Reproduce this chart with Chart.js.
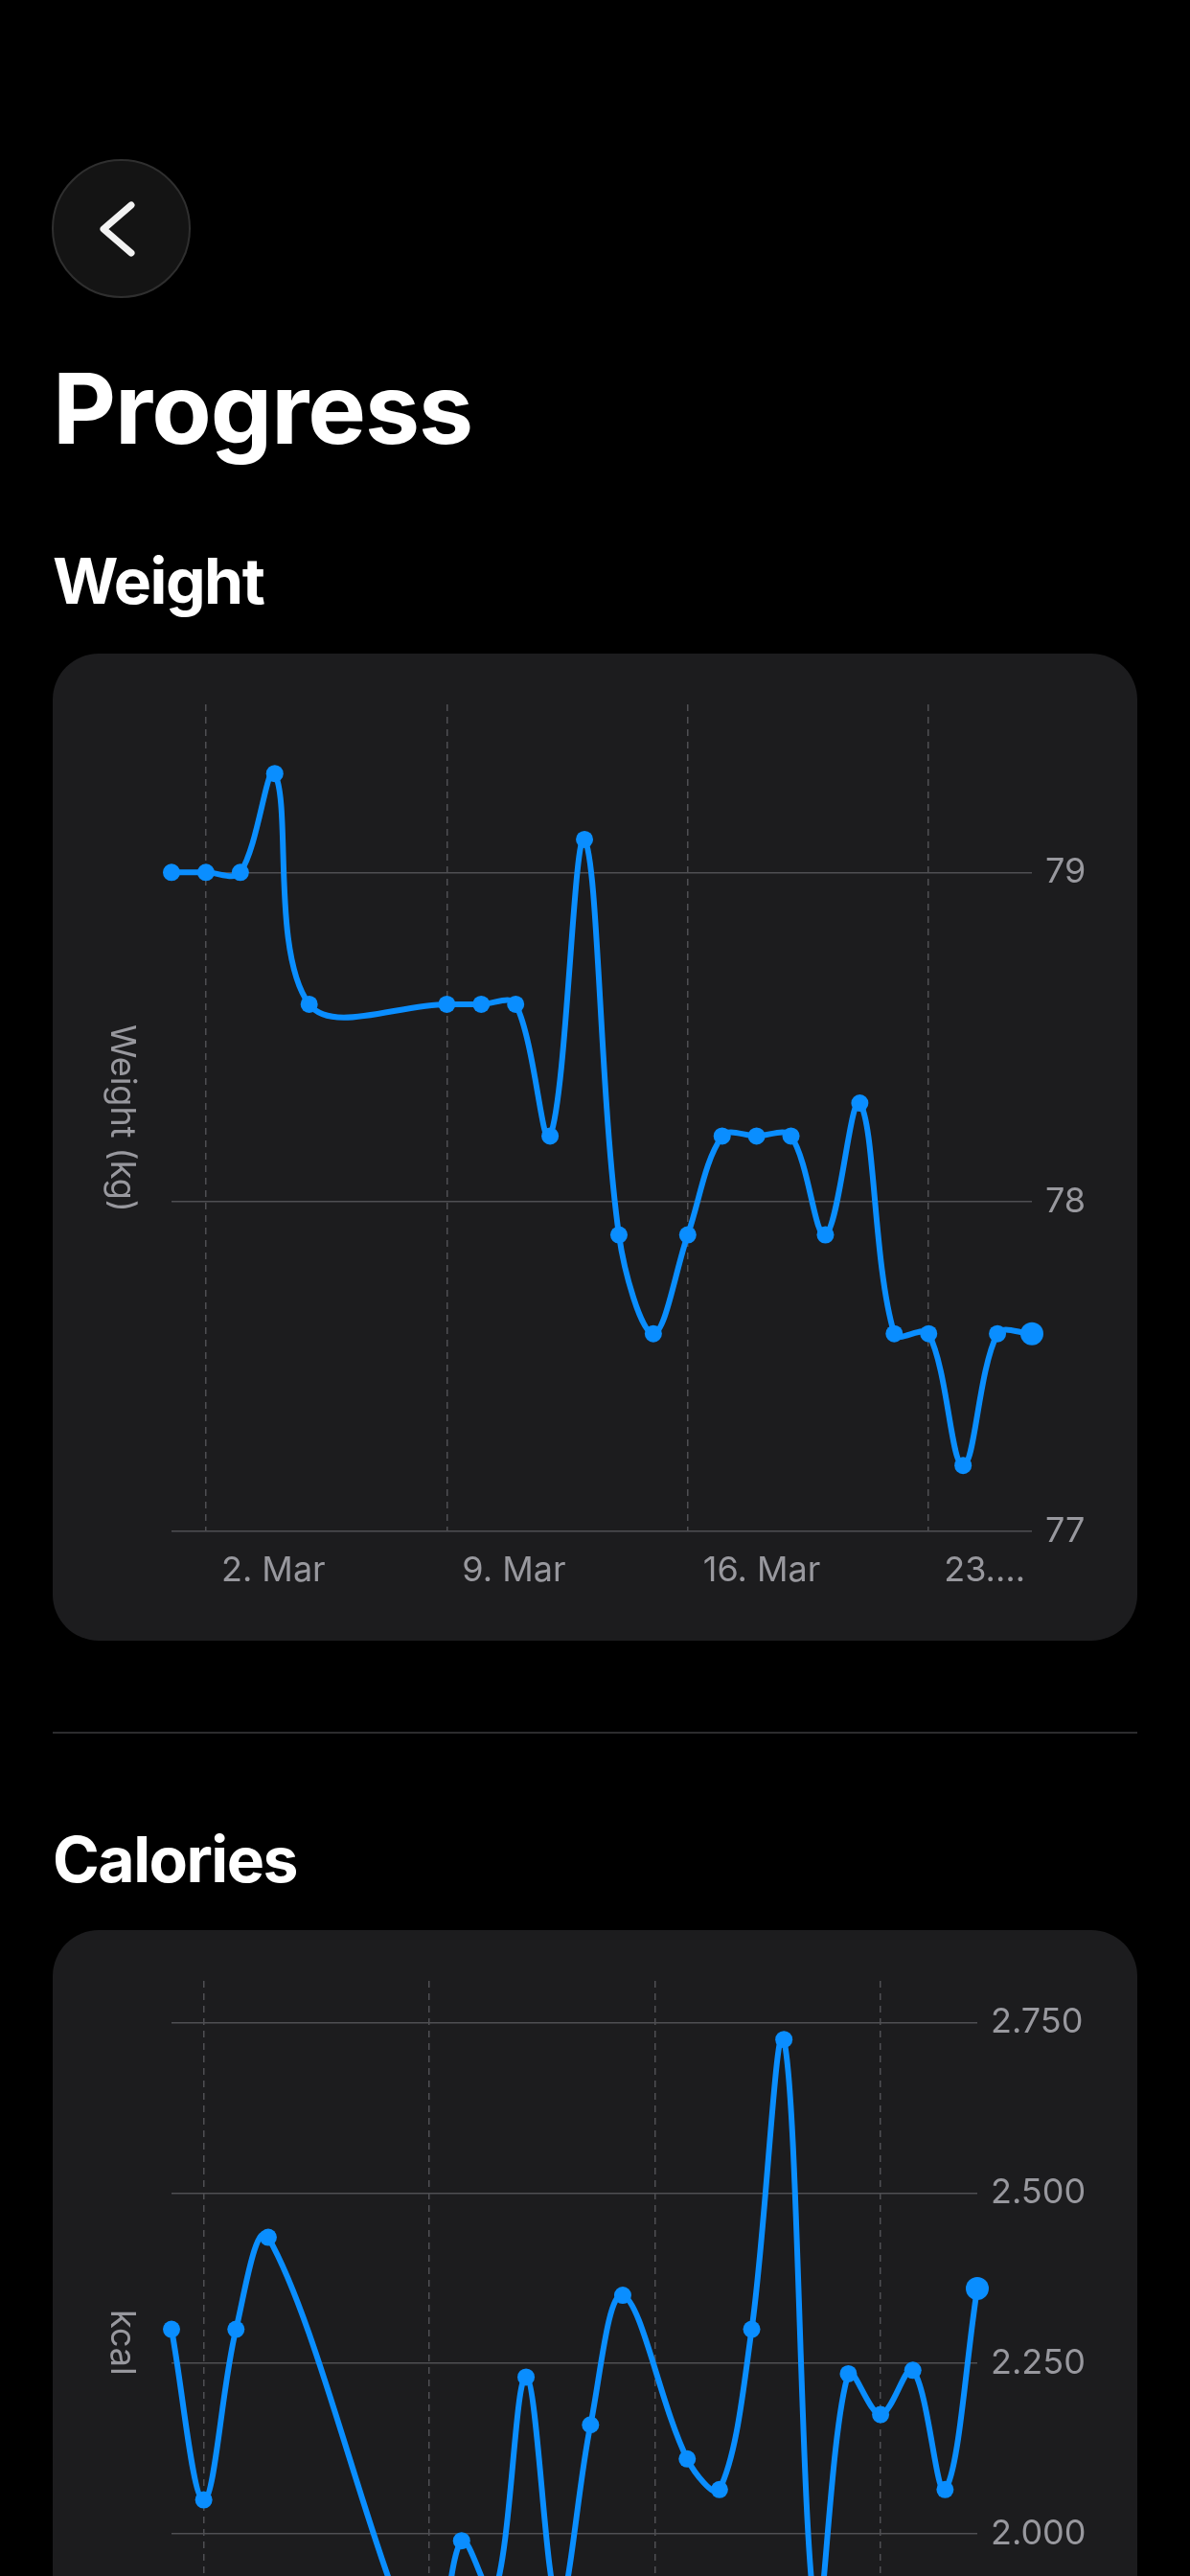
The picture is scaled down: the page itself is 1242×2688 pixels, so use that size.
<!DOCTYPE html>
<html>
<head>
<meta charset="utf-8">
<script src="https://cdn.jsdelivr.net/npm/chart.js@4.4.1/dist/chart.umd.min.js"></script>
<style>
html, body { margin:0; padding:0; background:#000; width:1242px; height:2688px; overflow:hidden; }
body { position:relative; font-family: Inter, "Noto Sans", Roboto, sans-serif; color:#fff; }
.back { position:absolute; left:54px; top:166px; width:145px; height:145px; border-radius:50%;
        background:#141414; border:2px solid #2f2f2f; box-sizing:border-box; }
.back svg { position:absolute; left:-2px; top:-2px; }
h1 { position:absolute; left:55px; top:375px; margin:0; font-size:102px; line-height:102px; font-weight:700; letter-spacing:-1px; }
h2 { position:absolute; left:55px; margin:0; font-size:66px; line-height:66px; font-weight:700; letter-spacing:-1.5px; }
.card { position:absolute; left:55px; width:1132px; background:#1c1c1e; border-radius:48px; overflow:hidden; }
.card canvas { position:absolute; left:0; top:0; }
.divider { position:absolute; left:55px; width:1132px; top:1807px; height:2px; background:#2c2c2e; }
.ytitle { position:absolute; left:54px; width:40px; top:53px; display:flex; align-items:center; justify-content:center; }
.ytitle span { writing-mode:vertical-rl; font-size:36px; line-height:40px; color:#98989e; white-space:nowrap; }
</style>
</head>
<body>
<div class="back">
  <svg width="145" height="145" viewBox="0 0 145 145">
    <polyline points="83,48 54,73 83,98" fill="none" stroke="#f2f2f2" stroke-width="7" stroke-linecap="round" stroke-linejoin="round"/>
  </svg>
</div>
<h1>Progress</h1>
<h2 style="top:573px">Weight</h2>
<div class="card" style="top:682px;height:1030px;">
  <canvas id="weightChart" width="1132" height="1030" style="width:1132px;height:1030px"></canvas>
  <div class="ytitle" style="height:863px"><span>Weight (kg)</span></div>
</div>
<div class="divider"></div>
<h2 style="top:1907px">Calories</h2>
<div class="card" style="top:2014px;height:922px;">
  <canvas id="calChart" width="1132" height="922" style="width:1132px;height:922px"></canvas>
  <div class="ytitle" style="height:755px"><span>kcal</span></div>
</div>

<script>
// ---- Data (day index: 0 = 1 Mar ... 25 = 26 Mar) ----
const xTickDays   = [1, 8, 15, 22];
const xTickLabels = ["2. Mar", "9. Mar", "16. Mar", "23.…"];

const weightDays   = [0, 1, 2, 3, 4, 8, 9, 10, 11, 12, 13, 14, 15, 16, 17, 18, 19, 20, 21, 22, 23, 24, 25];
const weightValues = [79.0, 79.0, 79.0, 79.3, 78.6, 78.6, 78.6, 78.6, 78.2, 79.1, 77.9, 77.6, 77.9, 78.2, 78.2, 78.2, 77.9, 78.3, 77.6, 77.6, 77.2, 77.6, 77.6];
const weightTickValues = [77, 78, 79];
const weightTickLabels = ["77", "78", "79"];

const calDays   = [0, 1, 2, 3, 8, 9, 10, 11, 12, 13, 14, 16, 17, 18, 19, 20, 21, 22, 23, 24, 25];
const calValues = [2300, 2050, 2300, 2435, 1800, 1990, 1910, 2230, 1895, 2160, 2350, 2110, 2065, 2300, 2725, 1875, 2235, 2175, 2240, 2065, 2360];
const calTickValues = [1750, 2000, 2250, 2500, 2750];
const calTickLabels = ["1.750", "2.000", "2.250", "2.500", "2.750"];

// ---- Styles ----
const BLUE = '#0a8eff';
const GRID = '#4f4f53';
const TICK = '#98989e';
const FONT = { family: 'Inter, "Noto Sans", Roboto, sans-serif', size: 36 };

function makeChart(id, days, values, yMin, yMax, yTicks, yLabels, yWidth) {
  const data = days.map((d, i) => ({ x: d, y: values[i] }));
  return new Chart(document.getElementById(id), {
    type: 'line',
    data: { datasets: [{
      data,
      borderColor: BLUE,
      backgroundColor: BLUE,
      borderWidth: 6,
      borderCapStyle: 'round',
      borderJoinStyle: 'round',
      tension: 0.35,
      capBezierPoints: false,
      pointBackgroundColor: BLUE,
      pointBorderWidth: 0,
      pointRadius: (ctx) => ctx.dataIndex === ctx.dataset.data.length - 1 ? 12 : 9,
      clip: false,
      fill: false
    }]},
    options: {
      responsive: false,
      animation: false,
      devicePixelRatio: 1,
      layout: { padding: { left: 124, top: 53, right: 0, bottom: 0 } },
      plugins: { legend: { display: false }, tooltip: { enabled: false } },
      scales: {
        x: {
          type: 'linear', min: 0, max: 25,
          afterBuildTicks: (s) => { s.ticks = xTickDays.map(v => ({ value: v })); },
          afterFit: (s) => { s.height = 114; },
          ticks: { callback: (v, i) => xTickLabels[i], align: 'start', labelOffset: 16, padding: 20,
                   color: TICK, font: FONT, maxRotation: 0, autoSkip: false },
          grid: { color: GRID, lineWidth: 1.5, drawTicks: false },
          border: { display: false, dash: [7, 6] }
        },
        y: {
          type: 'linear', position: 'right', min: yMin, max: yMax,
          afterBuildTicks: (s) => { s.ticks = yTicks.map(v => ({ value: v })); },
          afterFit: (s) => { s.width = yWidth; },
          ticks: { callback: (v, i) => yLabels[i], padding: 14, color: TICK, font: FONT },
          grid: { color: GRID, lineWidth: 1.5, drawTicks: false },
          border: { display: false }
        }
      }
    }
  });
}

makeChart('weightChart', weightDays, weightValues, 77, 79.51, weightTickValues, weightTickLabels, 110);
makeChart('calChart', calDays, calValues, 1750, 2811, calTickValues, calTickLabels, 167);
</script>
</body>
</html>
